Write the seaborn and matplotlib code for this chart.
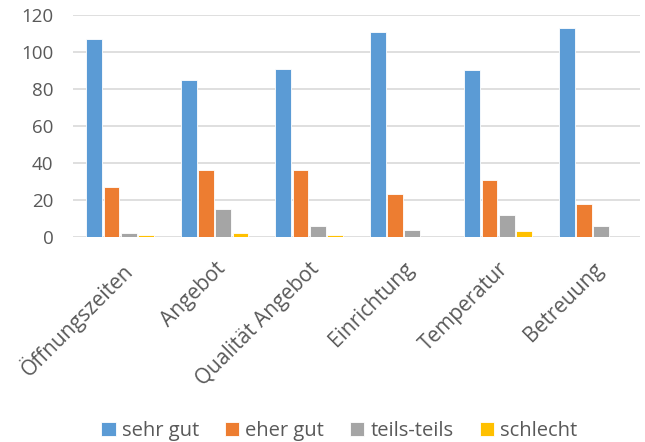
import pandas as pd
import matplotlib.pyplot as plt
import seaborn as sns

categories = ['Öffnungszeiten', 'Angebot', 'Qualität Angebot', 'Einrichtung', 'Temperatur', 'Betreuung']
series_names = ['sehr gut', 'eher gut', 'teils-teils', 'schlecht']
sehr_gut = [107, 85, 91, 111, 90, 113]
eher_gut = [27, 36, 36, 23, 31, 18]
teils_teils = [2, 15, 6, 4, 12, 6]
schlecht = [1, 2, 1, 0, 3, 0]
colors = ['#5B9BD5', '#ED7D31', '#A5A5A5', '#FFC000']


def main():
    values = [sehr_gut, eher_gut, teils_teils, schlecht]
    rows = []
    for name, vals in zip(series_names, values):
        for cat, v in zip(categories, vals):
            rows.append({'Bereich': cat, 'Bewertung': name, 'Anzahl': v})
    df = pd.DataFrame(rows)

    sns.set_style('white')
    plt.rcParams['font.family'] = ['Open Sans', 'DejaVu Sans']

    fig = plt.figure(figsize=(6.45, 4.42), dpi=100)
    ax = fig.add_axes([0.113, 0.464, 0.879, 0.502])
    sns.barplot(data=df, x='Bereich', y='Anzahl', hue='Bewertung',
                palette=colors, saturation=1, width=0.73, gap=0.08,
                edgecolor='white', linewidth=0.6, ax=ax, legend=True)

    ax.set_ylim(0, 120)
    ax.set_yticks(range(0, 121, 20))
    ax.yaxis.grid(True, color='#D9D9D9', linewidth=1.2)
    ax.set_axisbelow(True)
    for s in ax.spines.values():
        s.set_visible(False)
    ax.set_xlabel('')
    ax.set_ylabel('')
    ax.tick_params(axis='both', length=0, labelsize=13.5, colors='#595959')
    ax.tick_params(axis='y', pad=14)
    ax.tick_params(axis='x', pad=15.5, labelsize=15)
    plt.setp(ax.get_xticklabels(), rotation=45, ha='right', rotation_mode='anchor')

    handles, labels = ax.get_legend_handles_labels()
    ax.get_legend().remove()
    fig.legend(handles, labels, loc='center', ncol=4, frameon=False,
               bbox_to_anchor=(0.526, 0.025), fontsize=14.5, handlelength=0.7,
               handleheight=0.7, handletextpad=0.3, columnspacing=1.3,
               labelcolor='#595959')

    fig.savefig('out.png', dpi=100)


if __name__ == "__main__":
    main()
